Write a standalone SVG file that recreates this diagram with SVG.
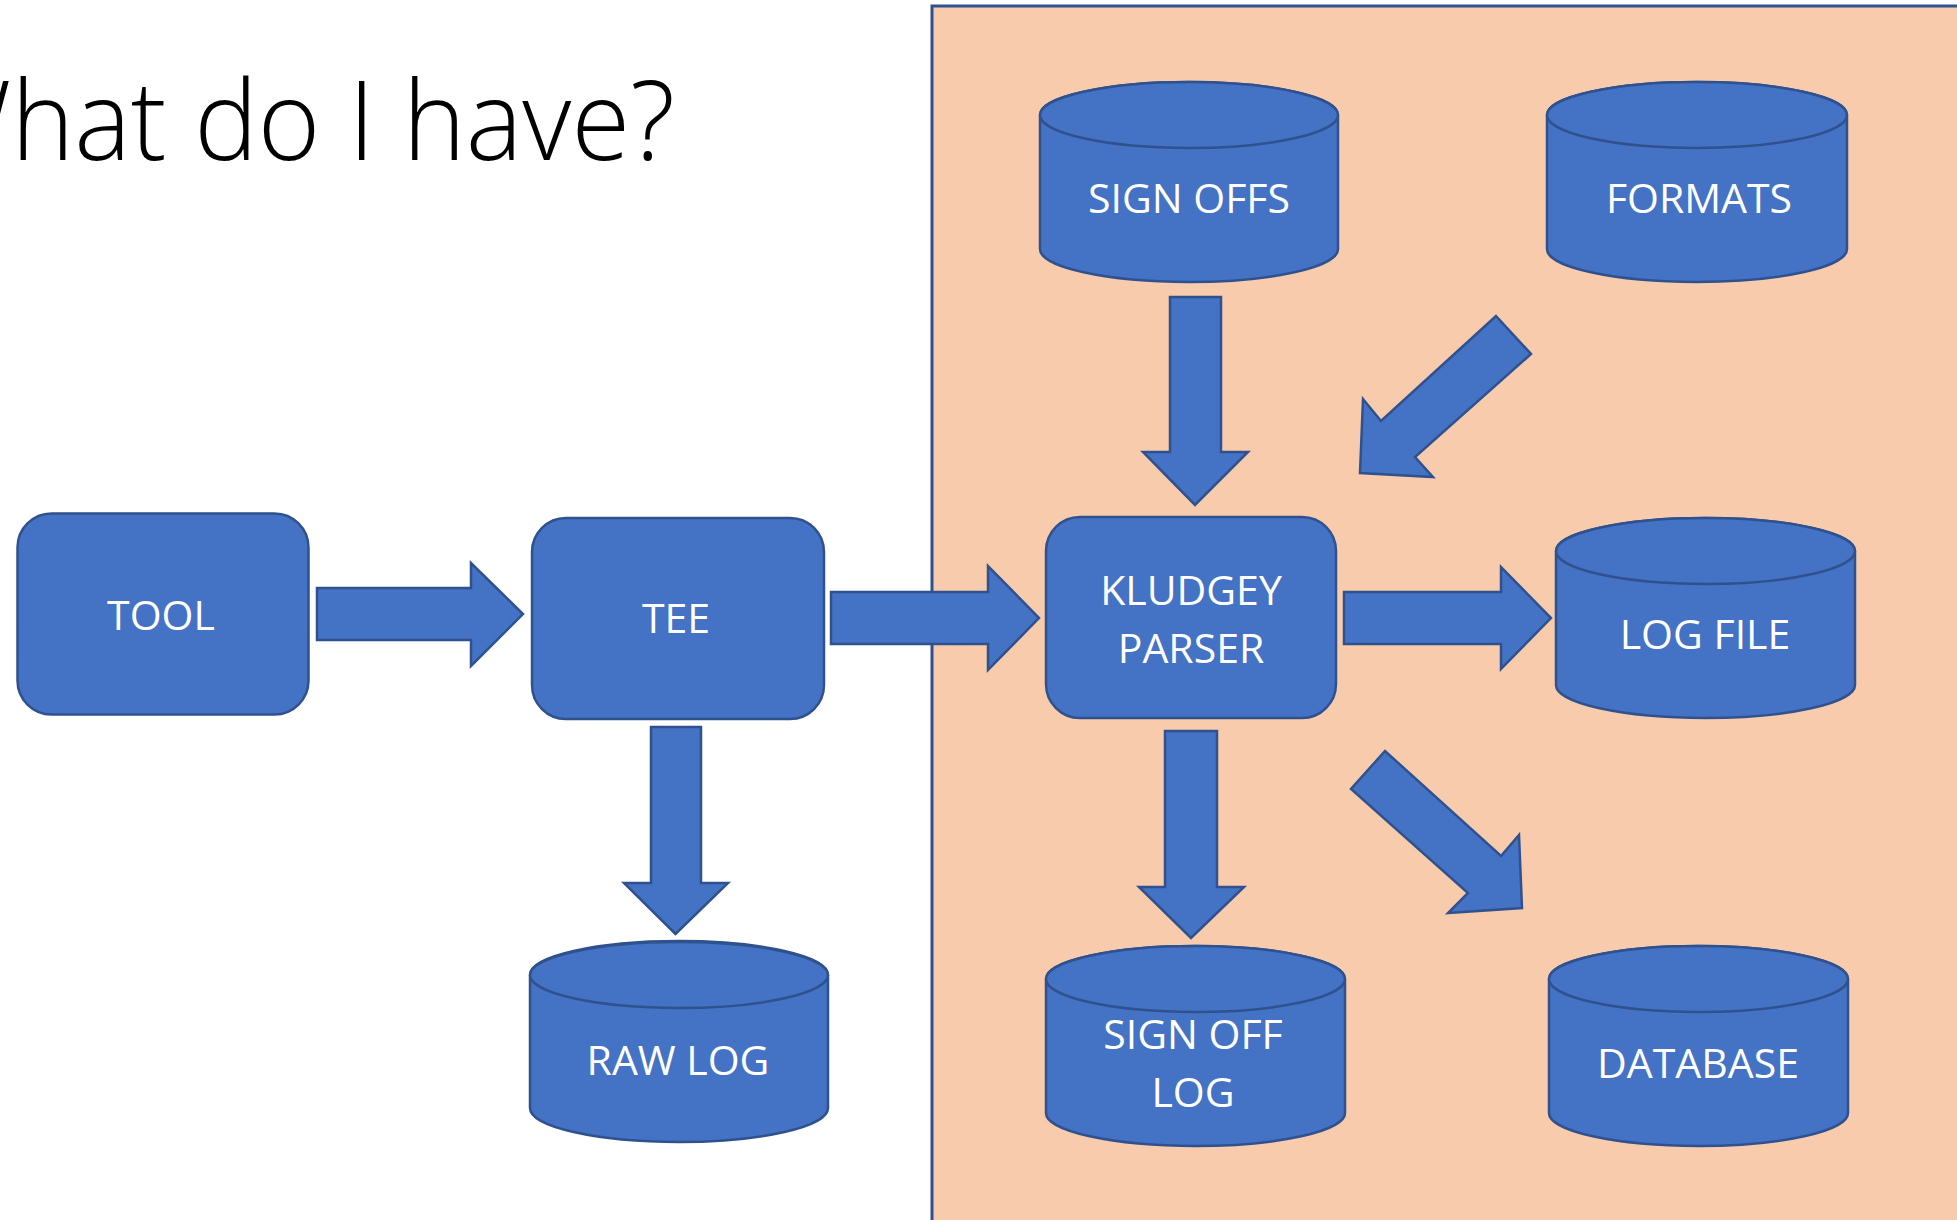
<svg xmlns="http://www.w3.org/2000/svg" width="1957" height="1220" viewBox="0 0 1957 1220">
<style>
.shape{fill:#4472C4;stroke:#2F528F;stroke-width:2.5;stroke-linejoin:miter}
.lbl{fill:#FFFFFF;font-family:"Open Sans","Liberation Sans",sans-serif;font-size:41px;text-anchor:middle}
.title{fill:#000000;font-family:"Open Sans","Liberation Sans",sans-serif;font-size:110px;font-weight:300}
</style>
<rect width="1957" height="1220" fill="#FFFFFF"/>
<rect id="panel" x="932" y="6" width="1040" height="1230" fill="#F8CBAD" stroke="#2F528F" stroke-width="3"/>
<text class="title" x="-84" y="160" textLength="759" lengthAdjust="spacingAndGlyphs">What do I have?</text>

<g id="connectors">
<polygon class="shape" points="317,588 471,588 471,563 523,614 471,666 471,640 317,640"/>
<polygon class="shape" points="831,592 988,592 988,566 1039,618 988,670 988,644 831,644"/>
<polygon class="shape" points="1344,592 1501,592 1501,567 1551,618 1501,669 1501,644 1344,644"/>
<polygon class="shape" points="651,727 701,727 701,883 728,883 675.5,934 624,883 651,883"/>
<polygon class="shape" points="1170,297 1221,297 1221,452 1248,452 1195,505 1143,452 1170,452"/>
<polygon class="shape" points="1165,731 1217,731 1217,887 1244,887 1191,938 1139,887 1165,887"/>
<polygon class="shape" points="1496,316 1531,354 1415,457 1433,477 1360,473 1363,399 1381,421"/>
<polygon class="shape" points="1385,751 1351,789 1468,893 1448,913 1522,908 1519,835 1501,856"/>
</g>

<g id="tool">
<rect class="shape" x="17.5" y="513.5" width="291" height="201" rx="34"/>
<text class="lbl" x="161" y="630">TOOL</text>
</g>
<g id="tee">
<rect class="shape" x="532" y="518" width="292" height="201" rx="34"/>
<text class="lbl" x="676" y="633">TEE</text>
</g>
<g id="kludgey-parser">
<rect class="shape" x="1046" y="517" width="290" height="201" rx="34"/>
<text class="lbl" x="1191" y="605">KLUDGEY</text>
<text class="lbl" x="1191" y="663">PARSER</text>
</g>

<g id="sign-offs">
<path class="shape" d="M1040,115 V249 A149,33 0 0 0 1338,249 V115 A149,33 0 0 0 1040,115 Z"/>
<ellipse class="shape" cx="1189" cy="115" rx="149" ry="33"/>
<text class="lbl" x="1189" y="213">SIGN OFFS</text>
</g>
<g id="formats">
<path class="shape" d="M1547,115 V249 A150,33 0 0 0 1847,249 V115 A150,33 0 0 0 1547,115 Z"/>
<ellipse class="shape" cx="1697" cy="115" rx="150" ry="33"/>
<text class="lbl" x="1699" y="213">FORMATS</text>
</g>
<g id="log-file">
<path class="shape" d="M1556,551 V685 A149.5,33 0 0 0 1855,685 V551 A149.5,33 0 0 0 1556,551 Z"/>
<ellipse class="shape" cx="1705.5" cy="551" rx="149.5" ry="33"/>
<text class="lbl" x="1705" y="649">LOG FILE</text>
</g>
<g id="raw-log">
<path class="shape" d="M530,975 V1108 A149,34 0 0 0 828,1108 V975 A149,34 0 0 0 530,975 Z"/>
<ellipse class="shape" cx="679" cy="975" rx="149" ry="33"/>
<text class="lbl" x="678" y="1075">RAW LOG</text>
</g>
<g id="sign-off-log">
<path class="shape" d="M1046,979 V1113 A149.5,33 0 0 0 1345,1113 V979 A149.5,33 0 0 0 1046,979 Z"/>
<ellipse class="shape" cx="1195.5" cy="979" rx="149.5" ry="33"/>
<text class="lbl" x="1193" y="1049">SIGN OFF</text>
<text class="lbl" x="1193" y="1107">LOG</text>
</g>
<g id="database">
<path class="shape" d="M1549,979 V1113 A149.5,33 0 0 0 1848,1113 V979 A149.5,33 0 0 0 1549,979 Z"/>
<ellipse class="shape" cx="1698.5" cy="979" rx="149.5" ry="33"/>
<text class="lbl" x="1698" y="1078">DATABASE</text>
</g>
</svg>
